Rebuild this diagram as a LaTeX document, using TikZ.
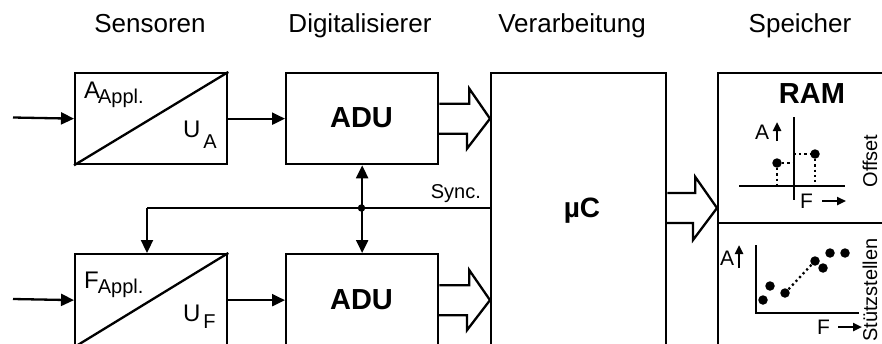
\documentclass[tikz,border=0pt]{standalone}
\usepackage{fontspec}
\setmainfont{Liberation Sans}
\usetikzlibrary{arrows.meta}
\begin{document}
\begin{tikzpicture}[x=1pt,y=-1pt, line width=2.3pt,
  box/.style={draw, rectangle, inner sep=0pt, anchor=north west, line width=2.3pt},
  tip/.style={-{Triangle[length=13pt,width=12pt]}},
  dtip/.style={{Triangle[length=13pt,width=12pt]}-{Triangle[length=13pt,width=12pt]}},
  stip/.style={-{Triangle[length=9pt,width=8pt]}, line width=2.6pt},
  dot/.style={circle, fill, inner sep=0pt, minimum size=9.5pt},
  hdr/.style={font=\fontsize{26}{26}\selectfont, anchor=base, inner sep=0pt},
  big/.style={font=\bfseries\fontsize{29}{29}\selectfont, anchor=base, inner sep=0pt},
  lbl/.style={font=\fontsize{24}{24}\selectfont, anchor=base west, inner sep=0pt},
  sml/.style={font=\fontsize{20}{20}\selectfont, inner sep=0pt},
  pl/.style={font=\fontsize{21}{21}\selectfont, inner sep=0pt, anchor=base west},
  dots/.style={line width=2.2pt, dash pattern=on 2.2pt off 3pt}
]
\useasboundingbox (0,0) rectangle (882,343);

% headers
\node[hdr] (h1) at (150,32) {Sensoren};
\node[hdr] (h2) at (360,32) {Digitalisierer};
\node[hdr] (h3) at (572,32) {Verarbeitung};
\node[hdr] (h4) at (800,32) {Speicher};

% boxes
\node[box, minimum width=152pt, minimum height=91pt] (sA) at (74,72) {};
\draw (sA.south west) -- (sA.north east);
\node[box, minimum width=152pt, minimum height=91pt] (adA) at (285,72) {};
\node[box, minimum width=152pt, minimum height=92pt] (sF) at (74,253) {};
\draw (sF.south west) -- (sF.north east);
\node[box, minimum width=152pt, minimum height=92pt] (adF) at (285,253) {};
\node[box, minimum width=175pt, minimum height=300pt] (mc) at (490,72) {};
\node[box, minimum width=170pt, minimum height=300pt] (ram) at (717,72) {};
\coordinate (div) at (717,223);
\draw (div) -- (div -| ram.east);

% box texts
\node[lbl] (la) at (83,98) {A\kern-2pt\raisebox{-5pt}{\fontsize{20}{20}\selectfont Appl.}};
\node[lbl] (ua) at (182,137) {U\kern3pt\raisebox{-11pt}{\fontsize{20}{20}\selectfont A}};
\node[lbl] (lf) at (83,288) {F\kern-1pt\raisebox{-5pt}{\fontsize{20}{20}\selectfont Appl.}};
\node[lbl] (uf) at (182,321) {U\kern3pt\raisebox{-7pt}{\fontsize{20}{20}\selectfont F}};
\node[big] (t1) at (361.5,127.5) {ADU};
\node[big] (t2) at (361.5,309) {ADU};
\node[big, font=\bfseries\fontsize{28}{28}\selectfont] (t3) at (582,217) {µC};
\node[big] (t4) at (812,103) {RAM};

% input and signal arrows
\coordinate (inA) at (13,117.5);
\coordinate (inF) at (13,299);
\draw[tip] (inA) -- (sA.west);
\draw[tip] (sA.east) -- (adA.west);
\draw[tip] (inF) -- (sF.west);
\draw[tip] (sF.east) -- (adF.west);

% sync
\coordinate (sj) at (361.5,208);
\coordinate (sL) at (147,208);
\draw[dtip] (adA.south) -- (adF.north);
\draw (mc.west |- sj) -- (sL);
\draw[tip] (sL) -- (sL |- sF.north);
\node[dot, minimum size=7.5pt] (sjd) at (sj) {};
\node[sml, anchor=base east] (sync) at (482,198) {Sync.};

% hollow bus arrows
\draw (adA.east) ++(0,-15) -- ++(30,0) -- ++(0,-15) -- (mc.west |- adA.east) -- ++(-23,30) -- ++(0,-15) -- ++(-30,0);
\draw (adF.east) ++(0,-15) -- ++(30,0) -- ++(0,-15) -- (mc.west |- adF.east) -- ++(-23,30) -- ++(0,-15) -- ++(-30,0);
\coordinate (m1) at (mc.east |- sj);
\draw (m1) ++(0,-15) -- ++(28,0) -- ++(0,-16) -- (ram.west |- sj) -- ++(-24,32) -- ++(0,-17) -- ++(-28,0);

% upper plot (Offset)
\coordinate (ax1) at (739,186);
\coordinate (ax2) at (845,186);
\coordinate (ay1) at (794,117);
\coordinate (ay2) at (794,200);
\draw (ax1) -- (ax2);
\draw (ay1) -- (ay2);
\coordinate (p1) at (777,163);
\coordinate (p2) at (815,154);
\draw[dots] (p1) -- (p1 |- ax1);
\draw[dots] (p1) -- (p1 -| ay1);
\draw[dots] (p2 -| ay1) -- (p2);
\draw[dots] (p2) -- (p2 |- ax1);
\node[dot] (d1) at (p1) {};
\node[dot] (d2) at (p2) {};
\node[pl] (aA1) at (754,139) {A};
\coordinate (ua1) at (777,141);
\coordinate (ua2) at (777,122);
\draw[stip] (ua1) -- (ua2);
\node[pl] (fF1) at (799,208) {F};
\coordinate (uf1) at (822,201);
\coordinate (uf2) at (846,201);
\draw[stip] (uf1) -- (uf2);
\node[sml, rotate=90, anchor=base] (off) at (877,161) {Offset};

% lower plot (Stuetzstellen)
\coordinate (by1) at (756,245);
\coordinate (bo) at (756,313);
\coordinate (bx2) at (859,313);
\draw (by1) -- (bo) -- (bx2);
\coordinate (q3) at (785,293);
\coordinate (q4) at (815,261);
\draw[dots] (q3) -- (q4);
\node[dot] (e1) at (763,300) {};
\node[dot] (e2) at (770,286) {};
\node[dot] (e3) at (q3) {};
\node[dot] (e4) at (q4) {};
\node[dot] (e5) at (823,268) {};
\node[dot] (e6) at (830,253) {};
\node[dot] (e7) at (845,253) {};
\node[pl] (aA2) at (719,265) {A};
\coordinate (va1) at (739,268);
\coordinate (va2) at (739,245);
\draw[stip] (va1) -- (va2);
\node[pl] (fF2) at (816,334) {F};
\coordinate (vf1) at (838,327);
\coordinate (vf2) at (862,327);
\draw[stip] (vf1) -- (vf2);
\node[sml, rotate=90, anchor=base] (stz) at (877,290) {Stützstellen};
\end{tikzpicture}
\end{document}
